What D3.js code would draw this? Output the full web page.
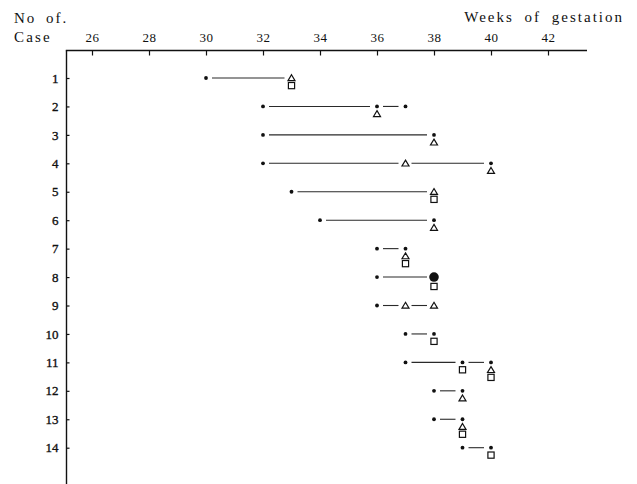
<!DOCTYPE html>
<html>
<head>
<meta charset="utf-8">
<script src="https://cdn.jsdelivr.net/npm/d3@7"></script>
<style>
  body { margin: 0; background: #fff; }
  svg { display: block; }
  svg text { font-family: "Liberation Serif", "DejaVu Serif", "Noto Serif", Tinos, "Times New Roman", serif; fill: #111; }
</style>
</head>
<body>
<div class="chart"></div>
<script>
// data
var caseNo = [1, 2, 3, 4, 5, 6, 7, 8, 9, 10, 11, 12, 13, 14];
var weekTicks = [26, 28, 30, 32, 34, 36, 38, 40, 42];

// on: symbol sitting on the case line, below: symbols stacked under it
var marks = [
  { c: 1, w: 30, on: 'dot', below: [] },
  { c: 1, w: 33, on: 'tri', below: ['sq'] },
  { c: 2, w: 32, on: 'dot', below: [] },
  { c: 2, w: 36, on: 'dot', below: ['tri'] },
  { c: 2, w: 37, on: 'dot', below: [] },
  { c: 3, w: 32, on: 'dot', below: [] },
  { c: 3, w: 38, on: 'dot', below: ['tri'] },
  { c: 4, w: 32, on: 'dot', below: [] },
  { c: 4, w: 37, on: 'tri', below: [] },
  { c: 4, w: 40, on: 'dot', below: ['tri'] },
  { c: 5, w: 33, on: 'dot', below: [] },
  { c: 5, w: 38, on: 'tri', below: ['sq'] },
  { c: 6, w: 34, on: 'dot', below: [] },
  { c: 6, w: 38, on: 'dot', below: ['tri'] },
  { c: 7, w: 36, on: 'dot', below: [] },
  { c: 7, w: 37, on: 'dot', below: ['tri', 'sq'] },
  { c: 8, w: 36, on: 'dot', below: [] },
  { c: 8, w: 38, on: 'big', below: ['sq'] },
  { c: 9, w: 36, on: 'dot', below: [] },
  { c: 9, w: 37, on: 'tri', below: [] },
  { c: 9, w: 38, on: 'tri', below: [] },
  { c: 10, w: 37, on: 'dot', below: [] },
  { c: 10, w: 38, on: 'dot', below: ['sq'] },
  { c: 11, w: 37, on: 'dot', below: [] },
  { c: 11, w: 39, on: 'dot', below: ['sq'] },
  { c: 11, w: 40, on: 'dot', below: ['tri', 'sq'] },
  { c: 12, w: 38, on: 'dot', below: [] },
  { c: 12, w: 39, on: 'dot', below: ['tri'] },
  { c: 13, w: 38, on: 'dot', below: [] },
  { c: 13, w: 39, on: 'dot', below: ['tri', 'sq'] },
  { c: 14, w: 39, on: 'dot', below: [] },
  { c: 14, w: 40, on: 'dot', below: ['sq'] }
];

var serif = '"Liberation Serif", "DejaVu Serif", "Noto Serif", Tinos, "Times New Roman", serif';
var width = 637;
var height = 484;

var svg = d3.select('.chart')
  .append('svg')
  .attr('width', width)
  .attr('height', height)
  .style('font-family', serif);

var xScale = d3.scaleLinear().domain([26, 42]).range([92, 548]);
var yScale = d3.scaleLinear().domain([1, 14]).range([78, 447.7]);

var axisY = 50.5;
var axisX = 66.5;

// top axis
var gx = svg.append('g')
  .attr('transform', 'translate(0,' + axisY + ')')
  .call(d3.axisTop(xScale).tickValues(weekTicks).tickSize(-5).tickPadding(9))
  .attr('font-family', serif);
gx.select('.domain').remove();
gx.selectAll('line').attr('stroke', '#111').attr('stroke-width', 1.2);
gx.selectAll('text')
  .style('font-family', serif)
  .style('font-size', '13px')
  .style('letter-spacing', '0.5px')
  .attr('fill', '#111');

svg.append('line')
  .attr('x1', axisX - 0.7).attr('x2', 587)
  .attr('y1', axisY).attr('y2', axisY)
  .attr('stroke', '#111').attr('stroke-width', 1.5);

// left axis
var gy = svg.append('g')
  .attr('transform', 'translate(' + axisX + ',0)')
  .call(d3.axisLeft(yScale).tickValues(caseNo).tickSize(-3).tickPadding(8))
  .attr('font-family', serif);
gy.select('.domain').remove();
gy.selectAll('line').attr('stroke', '#111').attr('stroke-width', 1.2);
gy.selectAll('text')
  .style('font-family', serif)
  .style('font-size', '13px')
  .attr('fill', '#111')
  .attr('stroke', '#111')
  .attr('stroke-width', 0.35);

svg.append('line')
  .attr('x1', axisX).attr('x2', axisX)
  .attr('y1', axisY).attr('y2', height)
  .attr('stroke', '#111').attr('stroke-width', 1.4);

// titles
svg.append('text')
  .attr('x', 14).attr('y', 22.5)
  .style('font-family', serif)
  .style('font-size', '15px')
  .style('letter-spacing', '2px')
  .style('word-spacing', '4px')
  .text('No of.');

svg.append('text')
  .attr('x', 14).attr('y', 41.7)
  .style('font-family', serif)
  .style('font-size', '15px')
  .style('letter-spacing', '2.2px')
  .text('Case');

svg.append('text')
  .attr('x', 624).attr('y', 21.7)
  .style('font-family', serif)
  .style('text-anchor', 'end')
  .style('font-size', '15px')
  .style('letter-spacing', '2px')
  .style('word-spacing', '5px')
  .text('Weeks of gestation');

// connecting lines between consecutive events of each case
var byCase = d3.group(marks, d => d.c);
var segs = [];
byCase.forEach(function (list) {
  list.sort((a, b) => a.w - b.w);
  for (var i = 1; i < list.length; i++) {
    segs.push({ c: list[i].c, w0: list[i - 1].w, w1: list[i].w });
  }
});

svg.selectAll('.seg')
  .data(segs)
  .enter()
  .append('line')
  .attr('class', 'seg')
  .attr('x1', d => xScale(d.w0) + 6)
  .attr('x2', d => xScale(d.w1) - 7)
  .attr('y1', d => yScale(d.c))
  .attr('y2', d => yScale(d.c))
  .attr('stroke', '#2a2a2a')
  .attr('stroke-width', 1.1);

// symbols, stacked downward from the case line
var half = { dot: 3, big: 5, tri: 3.2, sq: 3.2 };
var symbols = [];
marks.forEach(function (m) {
  var cy = yScale(m.c);
  symbols.push({ kind: m.on, x: xScale(m.w), y: cy });
  var prev = m.on;
  m.below.forEach(function (k) {
    cy += half[prev] + half[k] + 1.2;
    symbols.push({ kind: k, x: xScale(m.w), y: cy });
    prev = k;
  });
});

var g = svg.append('g');

g.selectAll('.dot')
  .data(symbols.filter(d => d.kind === 'dot' || d.kind === 'big'))
  .enter()
  .append('circle')
  .attr('class', 'dot')
  .attr('cx', d => d.x)
  .attr('cy', d => d.y)
  .attr('r', d => d.kind === 'big' ? 4.8 : 1.9)
  .attr('fill', '#111');

g.selectAll('.tri')
  .data(symbols.filter(d => d.kind === 'tri'))
  .enter()
  .append('path')
  .attr('class', 'tri')
  .attr('d', d => 'M' + d.x + ',' + (d.y - 3.2) +
    'L' + (d.x + 3.5) + ',' + (d.y + 2.7) +
    'L' + (d.x - 3.5) + ',' + (d.y + 2.7) + 'Z')
  .attr('fill', '#fff')
  .attr('stroke', '#111')
  .attr('stroke-width', 1.2)
  .attr('stroke-linejoin', 'miter');

g.selectAll('.sq')
  .data(symbols.filter(d => d.kind === 'sq'))
  .enter()
  .append('rect')
  .attr('class', 'sq')
  .attr('x', d => d.x - 3.1)
  .attr('y', d => d.y - 3.1)
  .attr('width', 6.2)
  .attr('height', 6.2)
  .attr('fill', '#fff')
  .attr('stroke', '#111')
  .attr('stroke-width', 1.2);
</script>
</body>
</html>
